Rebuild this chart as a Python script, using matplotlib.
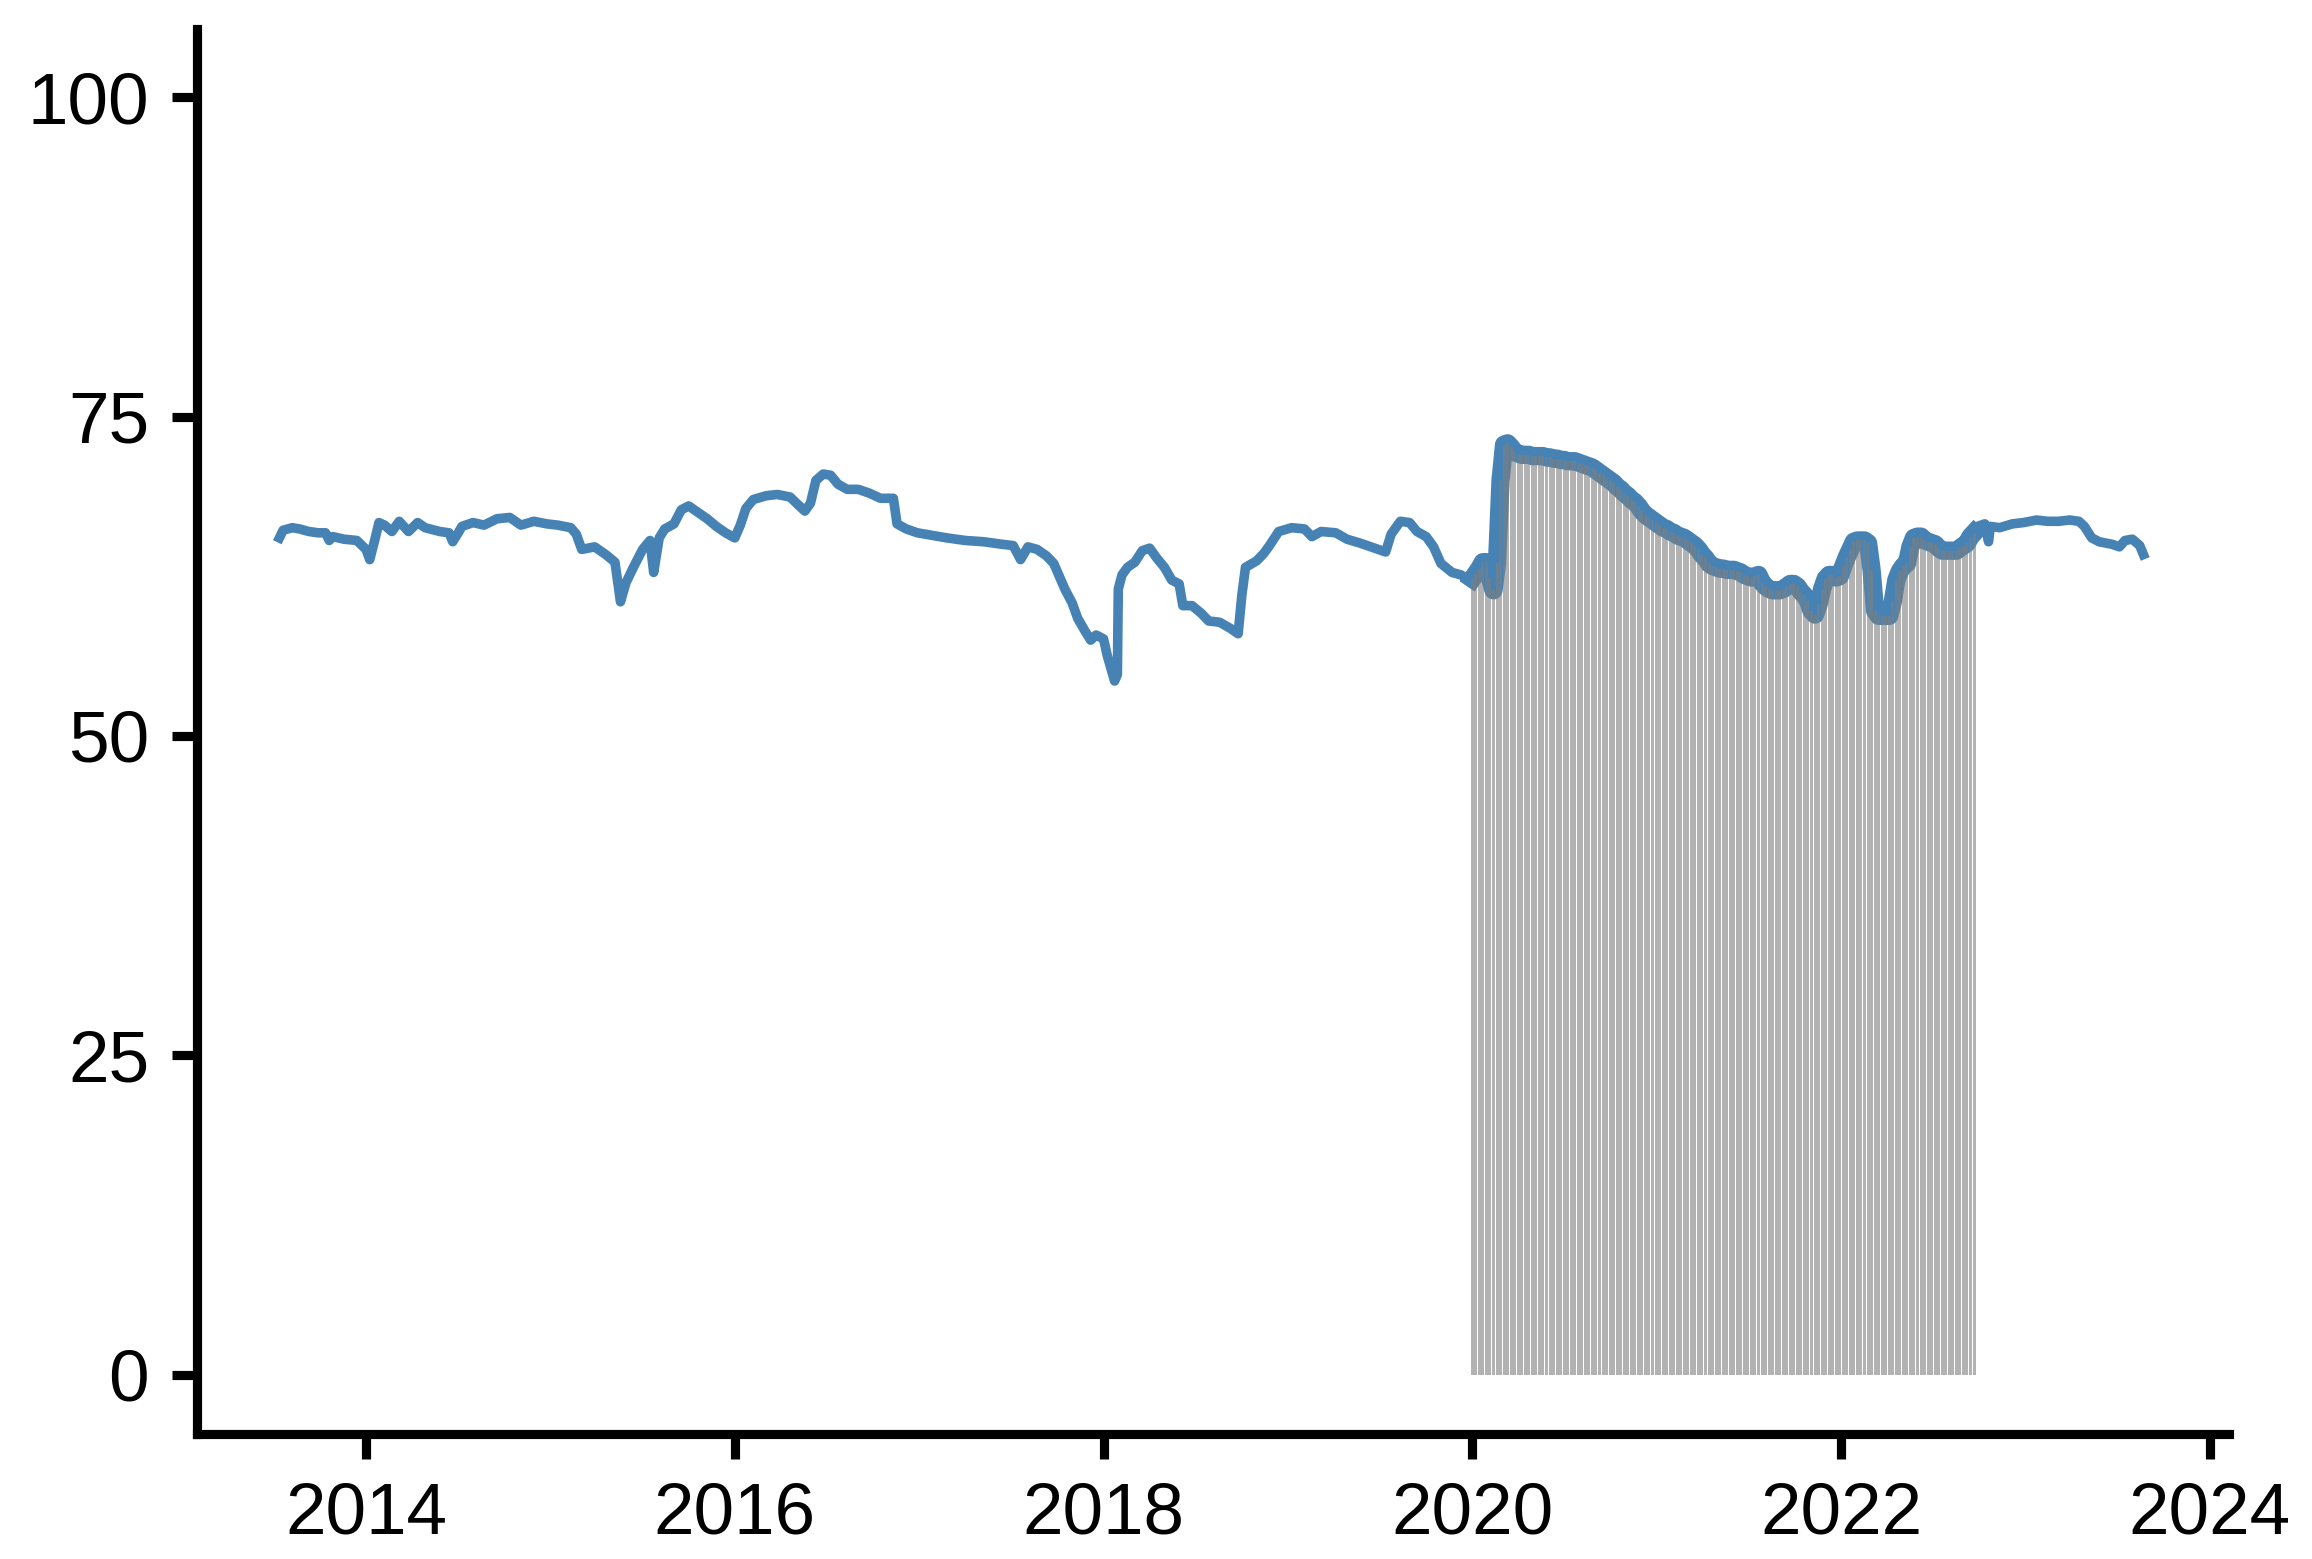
import numpy as np
import matplotlib.pyplot as plt

# decimal years and values
pre_years = [2013.53, 2013.55, 2013.60, 2013.64, 2013.69, 2013.74, 2013.78, 2013.80, 2013.82, 2013.88,
             2013.95, 2014.00, 2014.02, 2014.05, 2014.07, 2014.10, 2014.14, 2014.18, 2014.23, 2014.28,
             2014.32, 2014.40, 2014.45, 2014.47, 2014.50, 2014.52, 2014.58, 2014.64, 2014.71, 2014.78,
             2014.84, 2014.91, 2014.98, 2015.04, 2015.11, 2015.14, 2015.17, 2015.24, 2015.30, 2015.35,
             2015.38, 2015.41, 2015.45, 2015.50, 2015.54, 2015.56, 2015.59, 2015.62, 2015.67, 2015.71,
             2015.75, 2015.79, 2015.85, 2015.90, 2015.95, 2016.00, 2016.03, 2016.06, 2016.10, 2016.17,
             2016.23, 2016.30, 2016.35, 2016.38, 2016.41, 2016.44, 2016.48, 2016.52, 2016.56, 2016.61,
             2016.67, 2016.73, 2016.79, 2016.86, 2016.88, 2016.93, 2016.99, 2017.07, 2017.15, 2017.25,
             2017.35, 2017.45, 2017.51, 2017.55, 2017.59, 2017.64, 2017.69, 2017.73, 2017.76, 2017.79,
             2017.83, 2017.86, 2017.90, 2017.93, 2017.96, 2018.00, 2018.02, 2018.06, 2018.075, 2018.08,
             2018.10, 2018.13, 2018.17, 2018.21, 2018.25, 2018.29, 2018.33, 2018.37, 2018.41, 2018.43,
             2018.48, 2018.53, 2018.57, 2018.63, 2018.69, 2018.73, 2018.75, 2018.77, 2018.83, 2018.87,
             2018.90, 2018.95, 2019.02, 2019.09, 2019.13, 2019.18, 2019.26, 2019.32, 2019.39, 2019.47,
             2019.53, 2019.56, 2019.61, 2019.66, 2019.70, 2019.75, 2019.79, 2019.83, 2019.89, 2019.94,
             2019.98]
pre_values = [65.5, 66.1, 66.3, 66.2, 66.0, 65.9, 65.9, 65.3, 65.6, 65.4,
              65.3, 64.6, 63.8, 65.5, 66.7, 66.5, 66.0, 66.8, 66.0, 66.7,
              66.3, 66.0, 65.9, 65.2, 65.9, 66.4, 66.7, 66.5, 67.0, 67.1,
              66.5, 66.8, 66.6, 66.5, 66.3, 65.8, 64.6, 64.8, 64.2, 63.6,
              60.5, 62.0, 63.2, 64.6, 65.3, 62.8, 65.5, 66.2, 66.6, 67.7,
              68.0, 67.6, 67.0, 66.4, 65.9, 65.5, 66.5, 67.8, 68.5, 68.8,
              68.9, 68.7, 68.0, 67.6, 68.2, 70.0, 70.5, 70.4, 69.7, 69.3,
              69.3, 69.0, 68.6, 68.6, 66.6, 66.2, 65.9, 65.7, 65.5, 65.3,
              65.2, 65.0, 64.9, 63.8, 64.8, 64.6, 64.1, 63.5, 62.5, 61.5,
              60.4, 59.2, 58.2, 57.5, 57.9, 57.6, 56.3, 54.3, 54.8, 61.5,
              62.6, 63.2, 63.6, 64.5, 64.7, 63.9, 63.2, 62.2, 61.9, 60.2,
              60.2, 59.6, 59.0, 58.9, 58.4, 58.0, 61.0, 63.2, 63.7, 64.3,
              64.9, 66.0, 66.3, 66.2, 65.6, 66.0, 65.9, 65.4, 65.1, 64.7,
              64.4, 65.8, 66.8, 66.7, 66.0, 65.6, 64.8, 63.5, 62.8, 62.6,
              62.2]

# weekly values for the shaded period (Jan 2020 - Sep 2022)
hl_values = [62.3, 62.7, 63.1, 63.6, 63.6, 62.4, 61.4, 63.5, 70.0, 72.8,
             72.9, 72.6, 72.2, 72.1, 72.0, 72.0, 72.0, 71.9, 71.9, 71.9,
             71.9, 71.8, 71.8, 71.7, 71.7, 71.6, 71.6, 71.5, 71.5, 71.5,
             71.4, 71.3, 71.2, 71.1, 71.0, 70.8, 70.6, 70.4, 70.2, 70.0,
             69.8, 69.5, 69.3, 69.0, 68.8, 68.5, 68.3, 68.0, 67.6, 67.3,
             67.1, 66.9, 66.7, 66.5, 66.3, 66.2, 66.0, 65.9, 65.7, 65.6,
             65.5, 65.3, 65.1, 64.9, 64.6, 64.2, 63.9, 63.5, 63.3, 63.2,
             63.1, 63.1, 63.0, 63.0, 63.0, 62.9, 62.8, 62.6, 62.5, 62.4,
             62.5, 62.6, 62.0, 61.7, 61.5, 61.4, 61.4, 61.4, 61.5, 61.7,
             61.9, 61.9, 61.7, 61.3, 61.0, 60.6, 59.8, 59.5, 60.3, 61.5,
             62.3, 62.6, 62.6, 62.4, 62.5, 63.3, 64.0, 64.6, 65.2, 65.3,
             65.3, 65.3, 65.1, 63.0, 59.8, 59.4, 59.4, 59.4, 59.4, 60.5,
             62.2, 62.9, 63.3, 63.5, 64.8, 65.5, 65.6, 65.6, 65.3, 65.2,
             65.1, 65.0, 64.7, 64.5, 64.5, 64.5, 64.5, 64.5, 64.7, 64.9,
             65.1, 65.6, 65.9]
hl_years = 2020.0 + np.arange(len(hl_values)) * 7 / 365.25

post_years = [2022.74, 2022.78, 2022.80, 2022.81, 2022.86, 2022.93, 2022.99, 2023.06, 2023.12, 2023.18,
              2023.24, 2023.29, 2023.32, 2023.36, 2023.40, 2023.47, 2023.51, 2023.54, 2023.58, 2023.62,
              2023.64]
post_values = [66.4, 66.6, 65.2, 66.4, 66.3, 66.6, 66.7, 66.9, 66.8, 66.8,
               66.9, 66.8, 66.4, 65.5, 65.2, 65.0, 64.8, 65.3, 65.4, 64.9,
               64.2]

years = np.concatenate([pre_years, hl_years, post_years])
values = np.concatenate([pre_values, hl_values, post_values])

plt.rcParams['font.family'] = ['Liberation Sans', 'DejaVu Sans']

fig = plt.figure(figsize=(2312 / 300, 1559 / 300), dpi=300)
ax = fig.add_axes([0.0852, 0.0802, 0.8788, 0.901])

ax.plot(years, values, color='steelblue', lw=2.3, zorder=2)
ax.plot(hl_years, hl_values, color='steelblue', lw=4.4, zorder=2)
ax.bar(hl_years, hl_values, width=6 / 365.25, color='grey', alpha=0.6, lw=0, zorder=3)

ax.set_xlim(2013.083, 2024.103)
ax.set_ylim(-4.62, 105.3)
ax.set_xticks([2014, 2016, 2018, 2020, 2022, 2024])
ax.set_xticklabels(['2014', '2016', '2018', '2020', '2022', '2024'])
ax.set_yticks([0, 25, 50, 75, 100])

for s in ['top', 'right']:
    ax.spines[s].set_visible(False)
for s in ['left', 'bottom']:
    ax.spines[s].set_linewidth(2.2)
ax.tick_params(width=2.2, length=6, pad=5.5, labelsize=17.5)

fig.savefig('out.png', dpi=300)
